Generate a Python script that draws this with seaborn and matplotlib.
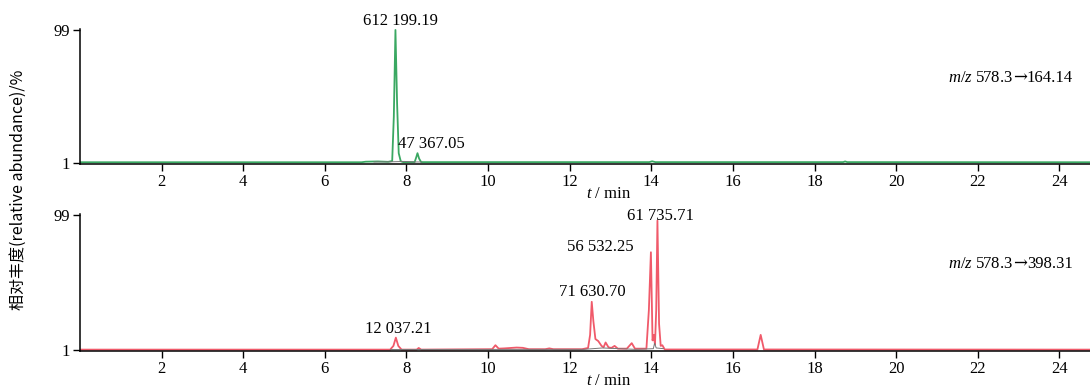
import matplotlib
matplotlib.use("Agg")
import matplotlib.pyplot as plt
from matplotlib.offsetbox import TextArea, HPacker, AnchoredOffsetbox
import seaborn as sns
import pandas as pd

# ---- data ----
top_t = [0.0, 6.9, 7.0, 7.3, 7.55, 7.65, 7.69, 7.73, 7.77, 7.81, 7.86, 7.92, 8.2, 8.24, 8.27, 8.31, 8.36,
         13.95, 14.02, 14.1, 18.7, 18.75, 18.8, 24.75]
top_v = [1.3, 1.3, 1.7, 1.9, 1.6, 2.2, 35.0, 99.0, 45.0, 8.0, 2.0, 1.4, 1.4, 5.0, 8.0, 4.0, 1.4,
         1.4, 2.0, 1.4, 1.4, 1.9, 1.4, 1.3]
top_base_t = [7.2, 7.6, 7.95, 8.2, 8.38]
top_base_v = [1.5, 1.6, 1.9, 1.5, 1.5]

bot_t = [0.0, 7.6, 7.68, 7.74, 7.8, 7.88, 8.25, 8.3, 8.36, 10.1, 10.18, 10.26, 10.4, 10.7, 10.85, 11.0,
         11.4, 11.5, 11.6, 12.3, 12.45, 12.5, 12.54, 12.58, 12.63, 12.7, 12.78, 12.83, 12.88, 12.95,
         13.02, 13.1, 13.18, 13.4, 13.52, 13.6, 13.88, 13.94, 13.99, 14.03, 14.06, 14.09, 14.12, 14.15,
         14.19, 14.23, 14.27, 14.33, 16.6, 16.68, 16.76, 24.75]
bot_v = [1.3, 1.3, 4.0, 10.0, 4.0, 1.3, 1.3, 2.5, 1.3, 1.6, 4.5, 2.0, 2.2, 2.8, 2.6, 1.6,
         1.6, 2.2, 1.6, 1.6, 2.5, 12.0, 36.0, 22.0, 9.0, 7.5, 4.0, 3.0, 6.5, 3.0,
         2.5, 4.0, 2.0, 2.0, 6.0, 2.0, 2.0, 30.0, 72.0, 8.0, 12.0, 5.0, 30.0, 95.0,
         20.0, 4.0, 4.5, 1.4, 1.4, 12.0, 1.4, 1.3]
bot_base_t = [7.6, 7.9, 12.35, 12.8, 13.6, 13.9, 14.05, 14.08, 14.12, 14.3]
bot_base_v = [1.4, 1.4, 1.5, 2.5, 1.5, 1.8, 2.0, 6.0, 2.5, 2.0]

top_labels = [("612 199.19", 7.85, 99.5), ("47 367.05", 8.6, 9.0)]
bot_labels = [("61 735.71", 14.22, 92.5), ("56 532.25", 12.75, 70.0), ("71 630.70", 12.55, 37.0),
              ("12 037.21", 7.8, 10.5)]
top_title = ("$m/z$ 578.3", "\u2192", "164.14")
bot_title = ("$m/z$ 578.3", "\u2192", "398.31")
xticks = [2, 4, 6, 8, 10, 12, 14, 16, 18, 20, 22, 24]
yticks = [1, 99]
ylabel = "相对丰度(relative abundance)/%"

# ---- style ----
sns.set_style("ticks")
plt.rcParams['font.family'] = ['Liberation Serif', 'DejaVu Serif']
plt.rcParams['mathtext.fontset'] = 'custom'
plt.rcParams['mathtext.it'] = 'Liberation Serif:italic'
plt.rcParams['mathtext.rm'] = 'Liberation Serif'
plt.rcParams['text.color'] = 'black'
plt.rcParams['axes.labelcolor'] = 'black'
plt.rcParams['xtick.color'] = 'black'
plt.rcParams['ytick.color'] = 'black'

fig = plt.figure(figsize=(10.9, 3.88), dpi=100)
ax1 = fig.add_axes([0.0734, 0.5773, 0.9266, 0.349])
ax2 = fig.add_axes([0.0734, 0.0943, 0.9266, 0.355])

def draw(ax, t, v, bt, bv, color, labels, title):
    df = pd.DataFrame({"t": t, "v": v})
    sns.lineplot(data=df, x="t", y="v", ax=ax, color=color, lw=1.3, estimator=None, sort=False)
    dfb = pd.DataFrame({"t": bt, "v": bv})
    sns.lineplot(data=dfb, x="t", y="v", ax=ax, color="#777777", lw=0.7, estimator=None, sort=False)
    ax.set_xlim(0, 24.75)
    ax.set_ylim(0, 100)
    ax.set_xticks(xticks)
    ax.set_yticks(yticks)
    ax.tick_params(direction="out", length=5, width=1, colors="black", labelsize=12, pad=2)
    for s in ("top", "right"):
        ax.spines[s].set_visible(False)
    for s in ("left", "bottom"):
        ax.spines[s].set_linewidth(1.1)
        ax.spines[s].set_color("black")
    ax.set_xlabel("$t$ / min", fontsize=12, labelpad=-3, x=0.523)
    ax.set_ylabel("")
    for txt, x, y in labels:
        ax.text(x, y, txt, ha="center", va="bottom", fontsize=12, clip_on=False)
    parts = [TextArea(title[0], textprops=dict(fontsize=12, color="black")),
             TextArea(title[1], textprops=dict(fontsize=12, color="black", family=['DejaVu Serif'])),
             TextArea(title[2], textprops=dict(fontsize=12, color="black"))]
    pack = HPacker(children=parts, align="baseline", pad=0, sep=0)
    box = AnchoredOffsetbox(loc="center right", child=pack, frameon=False, pad=0, borderpad=0,
                            bbox_to_anchor=(0.983, 0.64), bbox_transform=ax.transAxes)
    ax.add_artist(box)

draw(ax1, top_t, top_v, top_base_t, top_base_v, "#3aa862", top_labels, top_title)
draw(ax2, bot_t, bot_v, bot_base_t, bot_base_v, "#f05a6a", bot_labels, bot_title)

fig.text(0.017, 0.51, ylabel, rotation=90, ha="center", va="center", fontsize=11.5,
         family=['Noto Sans CJK SC', 'DejaVu Sans'])

fig.savefig("out.png", dpi=100)
